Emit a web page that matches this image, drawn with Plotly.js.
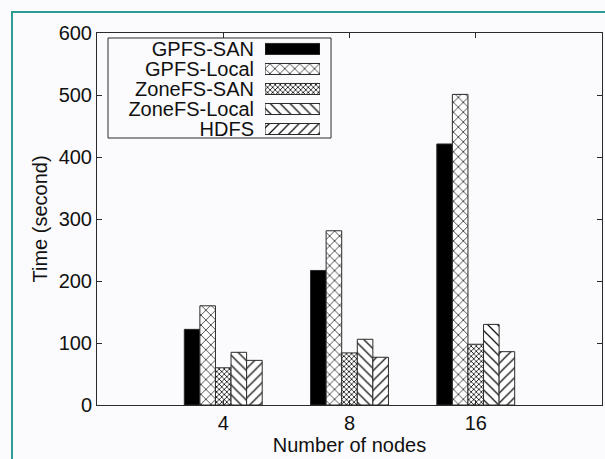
<!DOCTYPE html>
<html>
<head>
<meta charset="utf-8">
<script src="https://cdn.plot.ly/plotly-3.0.1.min.js"></script>
<style>
  html, body { margin: 0; padding: 0; background: #fbfbfd; }
  #wrap { position: relative; width: 605px; height: 459px; overflow: hidden; }
  #chart { position: absolute; left: 0; top: 0; width: 605px; height: 459px; }
  #frame { position: absolute; left: 11px; top: 11px; width: 700px; height: 600px;
           border-left: 2px solid #2c9d92; border-top: 2px solid #2c9d92; pointer-events: none; }
</style>
</head>
<body>
<div id="wrap"><div id="chart"></div><div id="frame"></div></div>
<script>
// ---- data ----
const categories = ['4', '8', '16'];
const seriesNames = ['GPFS-SAN', 'GPFS-Local', 'ZoneFS-SAN', 'ZoneFS-Local', 'HDFS'];
const gpfsSan = [122, 217, 421];
const gpfsLocal = [160, 281, 501];
const zonefsSan = [60, 84, 98];
const zonefsLocal = [85, 106, 130];
const hdfs = [72, 77, 86];
const yTickVals = [0, 100, 200, 300, 400, 500, 600];

// ---- styles ----
const LINE = '#2a2a2a';
const styles = [
  { color: '#000000', shape: '', size: 6, solidity: 0.2 },
  { color: '#ffffff', shape: 'x', size: 7, solidity: 0.2 },
  { color: '#ffffff', shape: 'x', size: 3.6, solidity: 0.4 },
  { color: '#ffffff', shape: '\\', size: 7, solidity: 0.18 },
  { color: '#ffffff', shape: '/', size: 7, solidity: 0.18 }
];
const seriesValues = [gpfsSan, gpfsLocal, zonefsSan, zonefsLocal, hdfs];

function markerFor(i) {
  return {
    color: styles[i].color,
    line: { color: LINE, width: 1 },
    pattern: { shape: styles[i].shape, size: styles[i].size, fgcolor: '#111111',
               bgcolor: '#ffffff', solidity: styles[i].solidity }
  };
}

const traces = seriesNames.map((name, i) => ({
  type: 'bar',
  name: name,
  x: categories,
  y: seriesValues[i],
  xaxis: 'x', yaxis: 'y',
  showlegend: false,
  marker: markerFor(i),
  hoverinfo: 'skip'
}));

// legend keys: one small horizontal bar per series on a hidden axis pair
seriesNames.forEach((name, i) => {
  traces.push({
    type: 'bar',
    orientation: 'h',
    y: [name],
    x: [1],
    xaxis: 'x2', yaxis: 'y2',
    width: 0.55,
    offset: -0.275,
    showlegend: false,
    hoverinfo: 'skip',
    marker: markerFor(i)
  });
});

const FONT = 'Liberation Sans, Arial, sans-serif';
const layout = {
  width: 605, height: 459,
  margin: { l: 97, r: 3, t: 33, b: 54 },
  paper_bgcolor: '#fbfbfd',
  plot_bgcolor: '#fbfbfd',
  font: { family: FONT, size: 20, color: '#111111' },
  barmode: 'group',
  bargap: 0.383,
  bargroupgap: 0,
  showlegend: false,
  xaxis: {
    type: 'category',
    categoryorder: 'array', categoryarray: categories,
    range: [-1, 3],
    showline: true, linecolor: LINE, linewidth: 1, mirror: 'ticks',
    ticks: 'inside', ticklen: 5, tickcolor: LINE, tickwidth: 1,
    showgrid: false, zeroline: false,
    tickfont: { size: 20 },
    title: { text: 'Number of nodes', font: { size: 20 }, standoff: 4 },
    fixedrange: true
  },
  yaxis: {
    range: [0, 600],
    tickvals: yTickVals,
    showline: true, linecolor: LINE, linewidth: 1, mirror: 'ticks',
    ticks: 'inside', ticklen: 5, tickcolor: LINE, tickwidth: 1,
    showgrid: false, zeroline: false,
    tickfont: { size: 20 },
    title: { text: 'Time (second)', font: { size: 20 } },
    fixedrange: true
  },
  xaxis2: {
    domain: [0.3327, 0.4416], anchor: 'y2', range: [0, 1],
    visible: false, fixedrange: true
  },
  yaxis2: {
    domain: [0.715, 0.984], anchor: 'x2',
    type: 'category', categoryorder: 'array', categoryarray: seriesNames,
    tickmode: 'array', tickvals: seriesNames, ticktext: seriesNames,
    range: [4.5, -0.5],
    showline: false, showgrid: false, zeroline: false, ticks: '',
    ticklabelstandoff: 10,
    tickfont: { size: 20, color: '#111111' },
    fixedrange: true
  },
  shapes: [{
    type: 'rect', xref: 'paper', yref: 'paper',
    x0: 0.0218, x1: 0.4634, y0: 0.7177, y1: 0.9866,
    line: { color: LINE, width: 1 }, fillcolor: 'rgba(0,0,0,0)'
  }]
};

Plotly.newPlot('chart', traces, layout, { displayModeBar: false, staticPlot: true });
</script>
</body>
</html>
